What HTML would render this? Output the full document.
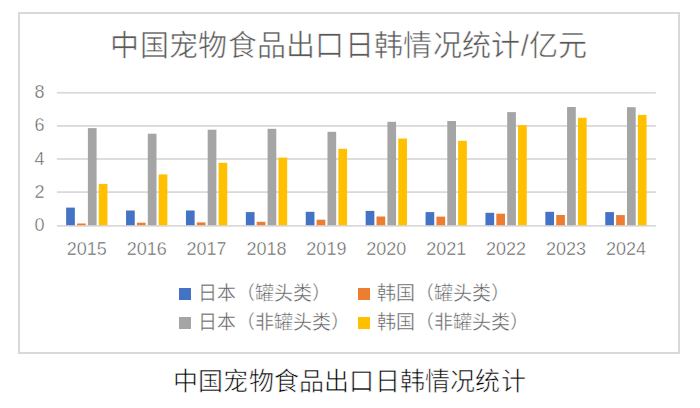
<!DOCTYPE html>
<html lang="zh-CN"><head><meta charset="utf-8"><title>中国宠物食品出口日韩情况统计</title>
<style>
html,body{margin:0;padding:0;background:#fff;}
body{width:700px;height:408px;position:relative;overflow:hidden;font-family:"Liberation Sans",sans-serif;}
.box{position:absolute;left:18px;top:12px;width:658px;height:338px;border:2px solid #D9D9D9;}
.title{position:absolute;left:0;top:26.2px;-webkit-text-stroke:0.5px #fff;width:698px;text-align:center;font-size:29px;letter-spacing:0.32px;color:#595959;line-height:40px;white-space:nowrap;}
svg{position:absolute;left:0;top:0;}
.yl{position:absolute;-webkit-text-stroke:0.45px #fff;left:20px;width:24.5px;text-align:right;font-size:18px;line-height:22px;color:#595959;}
.xl{position:absolute;-webkit-text-stroke:0.45px #fff;top:237.5px;width:60px;text-align:center;font-size:18px;line-height:22px;color:#595959;}
.lg{position:absolute;-webkit-text-stroke:0.4px #fff;font-size:19px;line-height:22px;color:#595959;white-space:nowrap;}
.mk{position:absolute;width:12px;height:12px;}
.cap{position:absolute;-webkit-text-stroke:0.6px #fff;left:-0.5px;top:367px;width:700px;letter-spacing:0.2px;text-align:center;font-family:"Liberation Serif",serif;font-size:25px;line-height:30px;color:#000;white-space:nowrap;}
</style></head><body>
<div class="box"></div>
<div class="title">中国宠物食品出口日韩情况统计/亿元</div>
<svg width="700" height="408" viewBox="0 0 700 408">
<rect x="56.9" y="191.22" width="599.0" height="1.75" fill="#D9D9D9"/><rect x="56.9" y="158.12" width="599.0" height="1.75" fill="#D9D9D9"/><rect x="56.9" y="125.02" width="599.0" height="1.75" fill="#D9D9D9"/><rect x="56.9" y="91.92" width="599.0" height="1.75" fill="#D9D9D9"/>
<rect x="56.9" y="225.00" width="599.0" height="1.75" fill="#D9D9D9"/>
<rect x="66.15" y="207.60" width="8.70" height="17.60" fill="#4472C4"/><rect x="77.02" y="223.50" width="8.70" height="1.70" fill="#ED7D31"/><rect x="87.89" y="128.10" width="8.70" height="97.10" fill="#A5A5A5"/><rect x="98.76" y="183.90" width="8.70" height="41.30" fill="#FFC000"/><rect x="126.05" y="210.50" width="8.70" height="14.70" fill="#4472C4"/><rect x="136.92" y="222.70" width="8.70" height="2.50" fill="#ED7D31"/><rect x="147.79" y="133.70" width="8.70" height="91.50" fill="#A5A5A5"/><rect x="158.66" y="174.40" width="8.70" height="50.80" fill="#FFC000"/><rect x="185.95" y="210.50" width="8.70" height="14.70" fill="#4472C4"/><rect x="196.82" y="222.40" width="8.70" height="2.80" fill="#ED7D31"/><rect x="207.69" y="129.70" width="8.70" height="95.50" fill="#A5A5A5"/><rect x="218.56" y="162.80" width="8.70" height="62.40" fill="#FFC000"/><rect x="245.85" y="212.10" width="8.70" height="13.10" fill="#4472C4"/><rect x="256.72" y="221.80" width="8.70" height="3.40" fill="#ED7D31"/><rect x="267.59" y="128.80" width="8.70" height="96.40" fill="#A5A5A5"/><rect x="278.46" y="157.60" width="8.70" height="67.60" fill="#FFC000"/><rect x="305.75" y="211.80" width="8.70" height="13.40" fill="#4472C4"/><rect x="316.62" y="219.70" width="8.70" height="5.50" fill="#ED7D31"/><rect x="327.49" y="131.80" width="8.70" height="93.40" fill="#A5A5A5"/><rect x="338.36" y="148.80" width="8.70" height="76.40" fill="#FFC000"/><rect x="365.65" y="210.90" width="8.70" height="14.30" fill="#4472C4"/><rect x="376.52" y="216.50" width="8.70" height="8.70" fill="#ED7D31"/><rect x="387.39" y="121.80" width="8.70" height="103.40" fill="#A5A5A5"/><rect x="398.26" y="138.50" width="8.70" height="86.70" fill="#FFC000"/><rect x="425.55" y="212.10" width="8.70" height="13.10" fill="#4472C4"/><rect x="436.42" y="216.60" width="8.70" height="8.60" fill="#ED7D31"/><rect x="447.29" y="121.00" width="8.70" height="104.20" fill="#A5A5A5"/><rect x="458.16" y="140.80" width="8.70" height="84.40" fill="#FFC000"/><rect x="485.45" y="212.80" width="8.70" height="12.40" fill="#4472C4"/><rect x="496.32" y="213.70" width="8.70" height="11.50" fill="#ED7D31"/><rect x="507.19" y="112.10" width="8.70" height="113.10" fill="#A5A5A5"/><rect x="518.06" y="125.20" width="8.70" height="100.00" fill="#FFC000"/><rect x="545.35" y="211.80" width="8.70" height="13.40" fill="#4472C4"/><rect x="556.22" y="215.00" width="8.70" height="10.20" fill="#ED7D31"/><rect x="567.09" y="107.00" width="8.70" height="118.20" fill="#A5A5A5"/><rect x="577.96" y="117.80" width="8.70" height="107.40" fill="#FFC000"/><rect x="605.25" y="212.10" width="8.70" height="13.10" fill="#4472C4"/><rect x="616.12" y="215.10" width="8.70" height="10.10" fill="#ED7D31"/><rect x="626.99" y="107.20" width="8.70" height="118.00" fill="#A5A5A5"/><rect x="637.86" y="114.90" width="8.70" height="110.30" fill="#FFC000"/>
</svg>
<div class="yl" style="top:213.7px">0</div><div class="yl" style="top:180.6px">2</div><div class="yl" style="top:147.5px">4</div><div class="yl" style="top:114.4px">6</div><div class="yl" style="top:81.3px">8</div>
<div class="xl" style="left:56.8px">2015</div><div class="xl" style="left:116.8px">2016</div><div class="xl" style="left:176.6px">2017</div><div class="xl" style="left:236.6px">2018</div><div class="xl" style="left:296.4px">2019</div><div class="xl" style="left:356.3px">2020</div><div class="xl" style="left:416.2px">2021</div><div class="xl" style="left:476.1px">2022</div><div class="xl" style="left:536.1px">2023</div><div class="xl" style="left:596.0px">2024</div>
<div class="mk" style="left:179px;top:288px;background:#4472C4"></div>
<div class="lg" style="left:198px;top:283.3px">日本（罐头类）</div>
<div class="mk" style="left:358px;top:288px;background:#ED7D31"></div>
<div class="lg" style="left:377px;top:283.3px">韩国（罐头类）</div>
<div class="mk" style="left:179px;top:317px;background:#A5A5A5"></div>
<div class="lg" style="left:198px;top:312.3px">日本（非罐头类）</div>
<div class="mk" style="left:358px;top:317px;background:#FFC000"></div>
<div class="lg" style="left:377px;top:312.3px">韩国（非罐头类）</div>
<div class="cap">中国宠物食品出口日韩情况统计</div>
</body></html>
